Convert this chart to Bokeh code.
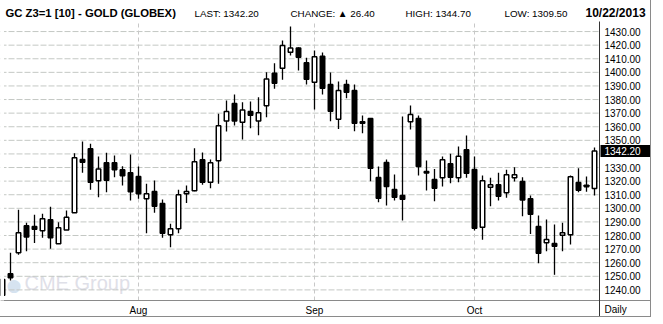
from bokeh.plotting import figure
from bokeh.models import (Range1d, FixedTicker, NumeralTickFormatter, Label, ColumnDataSource,
                          LinearAxis, BoxAnnotation)
from bokeh.embed import file_html
from bokeh.resources import INLINE

# ---- data ----
dates = [
    "2013-07-09", "2013-07-10", "2013-07-11", "2013-07-12", "2013-07-15", "2013-07-16", "2013-07-17",
    "2013-07-18", "2013-07-19", "2013-07-22", "2013-07-23", "2013-07-24", "2013-07-25", "2013-07-26",
    "2013-07-29", "2013-07-30", "2013-07-31",
    "2013-08-01", "2013-08-02", "2013-08-05", "2013-08-06", "2013-08-07", "2013-08-08", "2013-08-09",
    "2013-08-12", "2013-08-13", "2013-08-14", "2013-08-15", "2013-08-16", "2013-08-19", "2013-08-20",
    "2013-08-21", "2013-08-22", "2013-08-23", "2013-08-26", "2013-08-27", "2013-08-28", "2013-08-29",
    "2013-08-30",
    "2013-09-03", "2013-09-04", "2013-09-05", "2013-09-06", "2013-09-09", "2013-09-10", "2013-09-11",
    "2013-09-12", "2013-09-13", "2013-09-16", "2013-09-17", "2013-09-18", "2013-09-19", "2013-09-20",
    "2013-09-23", "2013-09-24", "2013-09-25", "2013-09-26", "2013-09-27", "2013-09-30",
    "2013-10-01", "2013-10-02", "2013-10-03", "2013-10-04", "2013-10-07", "2013-10-08", "2013-10-09",
    "2013-10-10", "2013-10-11", "2013-10-14", "2013-10-15", "2013-10-16", "2013-10-17", "2013-10-18",
    "2013-10-21", "2013-10-22",
]
opens = [
    1236.0, 1251.8, 1267.3, 1287.1, 1286.6, 1283.5, 1291.5, 1273.9, 1284.1, 1296.7, 1335.9, 1343.8,
    1320.2, 1333.5, 1333.5, 1328.3, 1326.1,
    1323.4, 1307.0, 1312.4, 1303.5, 1280.5, 1284.9, 1310.7, 1312.9, 1335.7, 1319.2, 1334.9, 1364.3,
    1377.1, 1363.3, 1371.2, 1364.3, 1375.4, 1399.3, 1403.0, 1414.8, 1418.0, 1407.0,
    1392.7, 1411.8, 1391.0, 1365.5, 1391.0, 1386.6, 1363.6, 1366.0, 1322.6, 1333.7, 1313.8, 1309.4,
    1363.6, 1366.0, 1327.1, 1321.2, 1322.4, 1332.7, 1322.4, 1343.0,
    1328.5, 1286.1, 1315.5, 1317.3, 1311.4, 1322.4, 1319.7, 1307.0, 1286.6, 1274.6, 1274.1, 1280.2,
    1280.5, 1319.0, 1316.9, 1314.5,
]
highs = [
    1249.0, 1267.3, 1298.9, 1289.3, 1295.2, 1296.0, 1301.1, 1289.8, 1298.4, 1340.5, 1349.1, 1347.4,
    1338.1, 1340.8, 1338.8, 1331.0, 1339.6,
    1330.7, 1318.0, 1320.4, 1306.5, 1288.6, 1313.6, 1316.8, 1344.2, 1341.0, 1335.9, 1369.5, 1379.3,
    1383.7, 1378.0, 1378.5, 1381.7, 1400.1, 1406.7, 1423.4, 1433.7, 1418.5, 1410.7,
    1416.0, 1414.6, 1399.9, 1393.2, 1394.5, 1391.0, 1368.2, 1366.3, 1330.7, 1335.9, 1324.9, 1367.5,
    1375.6, 1368.2, 1335.1, 1329.0, 1338.1, 1340.1, 1345.4, 1353.5,
    1338.1, 1324.1, 1322.4, 1326.1, 1328.3, 1330.2, 1322.9, 1309.4, 1294.7, 1291.8, 1288.1, 1289.3,
    1324.1, 1329.5, 1323.4, 1344.7,
]
lows = [
    1233.5, 1246.9, 1265.8, 1268.5, 1274.4, 1278.3, 1270.2, 1273.9, 1284.1, 1296.7, 1326.1, 1313.6,
    1308.2, 1311.8, 1322.9, 1316.8, 1305.7,
    1307.0, 1281.7, 1296.7, 1278.3, 1271.4, 1281.7, 1304.0, 1312.6, 1317.3, 1314.8, 1318.0, 1356.5,
    1360.9, 1350.6, 1358.9, 1353.8, 1367.0, 1387.9, 1394.5, 1412.4, 1401.3, 1391.0,
    1372.6, 1383.7, 1364.0, 1358.4, 1381.0, 1356.7, 1355.2, 1319.9, 1304.5, 1302.1, 1305.7, 1291.0,
    1357.9, 1324.1, 1313.1, 1305.2, 1316.0, 1318.5, 1319.2, 1322.4,
    1283.7, 1276.8, 1301.5, 1305.7, 1307.7, 1319.7, 1294.2, 1281.2, 1259.6, 1268.5, 1251.1, 1268.5,
    1273.4, 1311.8, 1312.1, 1309.5,
]
closes = [
    1247.6, 1248.9, 1282.0, 1278.9, 1284.6, 1292.3, 1278.3, 1285.7, 1293.5, 1337.1, 1333.9, 1319.2,
    1329.0, 1320.7, 1328.3, 1323.9, 1312.1,
    1310.7, 1310.7, 1301.5, 1281.7, 1285.0, 1309.9, 1312.4, 1334.2, 1319.2, 1333.5, 1360.7, 1371.2,
    1364.3, 1372.4, 1368.5, 1370.2, 1395.2, 1392.0, 1419.7, 1418.0, 1411.1, 1394.9,
    1411.4, 1388.3, 1371.4, 1386.6, 1385.4, 1362.6, 1362.6, 1329.5, 1307.4, 1316.0, 1308.2, 1306.7,
    1369.0, 1330.7, 1325.9, 1314.8, 1335.7, 1322.9, 1338.3, 1325.8,
    1285.4, 1320.2, 1317.3, 1308.9, 1324.6, 1324.6, 1306.2, 1295.7, 1267.0, 1277.1, 1272.1, 1282.0,
    1323.2, 1313.3, 1315.8, 1342.2,
]
price_ticks = [1240, 1250, 1260, 1270, 1280, 1290, 1300, 1310, 1320, 1330,
               1340, 1350, 1360, 1370, 1380, 1390, 1400, 1410, 1420, 1430]
month_names = {"08": "Aug", "09": "Sep", "10": "Oct"}

header_title = "GC Z3=1 [10] - GOLD (GLOBEX)"
header_last = "LAST: 1342.20"
header_change = "CHANGE: \u25B2 26.40"
header_high = "HIGH: 1344.70"
header_low = "LOW: 1309.50"
header_date = "10/22/2013"
period_label = "Daily"
last_label = "1342.20"

# ---- derived ----
xs = list(range(len(dates)))
src = ColumnDataSource(dict(
    x=xs, high=highs, low=lows,
    top=[max(o, c) for o, c in zip(opens, closes)],
    bottom=[min(o, c) for o, c in zip(opens, closes)],
    fill=["white" if c >= o else "black" for o, c in zip(opens, closes)],
))

month_idx = []
month_over = {}
for i in range(1, len(dates)):
    m = dates[i][5:7]
    if m != dates[i - 1][5:7] and m in month_names:
        month_idx.append(i)
        month_over[i] = month_names[m]

# ---- layout (canvas pixels) ----
W, H = 651, 317
FL, FR, FT, FB = 4, 599, 21, 300          # candle area edges
X0, X1 = 0.25, 74.625                     # data x at FL / FR
Y0, Y1 = 1232.2, 1437.4                   # data y at FB / FT
KX = (FR - FL) / (X1 - X0)
KY = (FB - FT) / (Y1 - Y0)

def dx(px):
    return X0 + (px - FL) / KX

def dy(py):
    return Y1 - (py - FT) / KY

p = figure(width=W, height=H,
           x_range=Range1d(dx(0), dx(W)), y_range=Range1d(dy(H), dy(0)),
           x_axis_location=None, y_axis_location=None,
           toolbar_location=None, output_backend="svg",
           min_border_left=0, min_border_right=0, min_border_top=0, min_border_bottom=0,
           outline_line_color=None, background_fill_color="white", border_fill_color="white",
           styles={"border-right": "1px solid #8a8a8a", "border-bottom": "1px solid #8a8a8a"})
p.grid.visible = False

# grid lines of the candle area
p.segment(x0=dx(0), x1=dx(FR), y0=price_ticks, y1=price_ticks,
          line_color="#c4c8c4", line_width=1, line_dash="6 2")
p.segment(x0=month_idx, x1=month_idx, y0=dy(FB), y1=dy(FT),
          line_color="#c8c8c8", line_width=1, line_dash="4 3")

# watermark
p.add_layout(Label(x=6, y=H - 294, x_units="screen", y_units="screen", text="\u25CF",
                   text_font="DejaVu Sans", text_font_size="17px", text_color="#d6e3f0",
                   level="underlay"))
p.add_layout(Label(x=24, y=H - 293, x_units="screen", y_units="screen", text="CME Group",
                   text_font="Liberation Sans", text_font_size="20px", text_color="#dfe0e8",
                   level="underlay"))

# candles
p.segment(x0="x", y0="low", x1="x", y1="high", source=src, line_color="black", line_width=1.3)
p.vbar(x="x", width=0.56, top="top", bottom="bottom", source=src,
       fill_color="fill", line_color="black", line_width=1.5)

# mask left of the candle area
p.add_layout(BoxAnnotation(left=dx(0), right=dx(3.5), bottom=dy(FB), top=dy(FT),
                           fill_color="white", fill_alpha=1, line_alpha=0))

# right price axis
axis_ticks = [t for t in price_ticks if abs(t - closes[-1]) > 5]
yax = LinearAxis(fixed_location=dx(FR), bounds=(dy(H), dy(FT)),
                 ticker=FixedTicker(ticks=axis_ticks),
                 formatter=NumeralTickFormatter(format="0.00"),
                 axis_line_color="#333333", axis_line_width=1,
                 major_tick_out=0, major_tick_in=0, minor_tick_out=0, minor_tick_in=0,
                 major_tick_line_color=None, minor_tick_line_color=None,
                 major_label_standoff=5, major_label_text_font="Liberation Sans",
                 major_label_text_font_size="10px", major_label_text_color="black")
p.add_layout(yax, "right")

# bottom month axis
xax = LinearAxis(fixed_location=dy(FB), bounds=(dx(0), dx(W)),
                 ticker=FixedTicker(ticks=month_idx), major_label_overrides=month_over,
                 axis_line_color="#8a8a8a", axis_line_width=1,
                 major_tick_out=0, major_tick_in=0, minor_tick_out=0, minor_tick_in=0,
                 major_tick_line_color=None, minor_tick_line_color=None,
                 major_label_standoff=4, major_label_text_font="Liberation Sans",
                 major_label_text_font_size="10px", major_label_text_color="black")
p.add_layout(xax, "below")

# header texts
def hdr(px, text, bold=False, size="9.8px"):
    p.add_layout(Label(x=px, y=H - 12.5, x_units="screen", y_units="screen", text=text,
                       text_font="Liberation Sans", text_font_size=size,
                       text_font_style="bold" if bold else "normal",
                       text_color="black", text_baseline="alphabetic"))

hdr(5, header_title, bold=True, size="11.3px")
hdr(194, header_last)
hdr(290, header_change)
hdr(405, header_high)
hdr(504, header_low)
hdr(585, header_date, bold=True, size="12px")

# last price box on the axis
p.add_layout(Label(x=600, y=closes[-1], x_units="screen", y_units="data", text=last_label,
                   text_font="Liberation Sans", text_font_size="10px", text_color="white",
                   text_baseline="middle", background_fill_color="black",
                   padding=dict(left=4, right=12, top=2, bottom=2)))

# period cell
p.add_layout(Label(x=604, y=H - 308.5, x_units="screen", y_units="screen", text=period_label,
                   text_font="Liberation Sans", text_font_size="10px", text_color="black",
                   text_baseline="middle"))

open("out.html", "w").write(file_html(p, INLINE))
